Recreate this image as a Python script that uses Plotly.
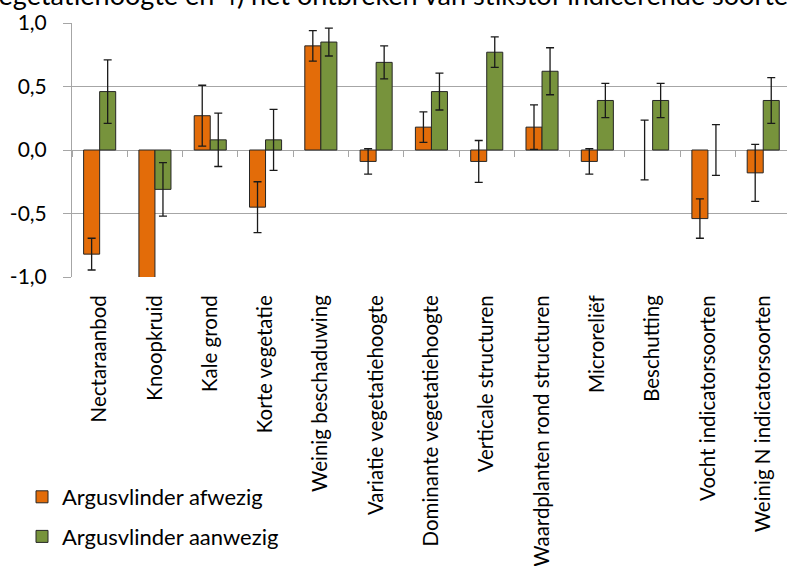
import plotly.graph_objects as go

categories = ["Nectaraanbod", "Knoopkruid", "Kale grond", "Korte vegetatie",
              "Weinig beschaduwing", "Variatie vegetatiehoogte", "Dominante vegetatiehoogte",
              "Verticale structuren", "Waardplanten rond structuren", "Microreliëf",
              "Beschutting", "Vocht indicatorsoorten", "Weinig N indicatorsoorten"]
afwezig = [-0.82, -1.25, 0.27, -0.45, 0.82, -0.09, 0.18, -0.09, 0.18, -0.09, 0.0, -0.54, -0.18]
afwezig_err = [0.125, 0.20, 0.24, 0.20, 0.12, 0.10, 0.12, 0.165, 0.175, 0.10, 0.235, 0.155, 0.225]
aanwezig = [0.46, -0.31, 0.08, 0.08, 0.85, 0.69, 0.46, 0.77, 0.62, 0.39, 0.39, 0.0, 0.39]
aanwezig_err = [0.25, 0.21, 0.21, 0.24, 0.11, 0.13, 0.145, 0.12, 0.185, 0.135, 0.135, 0.20, 0.18]
ytick_vals = [-1.0, -0.5, 0.0, 0.5, 1.0]
ytick_text = ["-1,0", "-0,5", "0,0", "0,5", "1,0"]
title_text = "vegetatiehoogte en 4) het ontbreken van stikstof indicerende soorten"

W, H = 787, 566
L, R, T, B = 72, 0, 23, 289
pw, ph = W - L - R, H - T - B

def px(x):
    return (x - L) / pw

def py(y):
    return (H - B - y) / ph

def outline_widths(vals):
    return [0 if v == 0 else 1 for v in vals]

fig = go.Figure()
fig.add_trace(go.Bar(
    x=categories, y=afwezig, name="Argusvlinder afwezig",
    marker=dict(color="#E36C09", line=dict(color="#262626", width=outline_widths(afwezig))),
    error_y=dict(type="data", array=afwezig_err, color="#1a1a1a", thickness=1.3, width=4),
    legendgroup="a",
))
fig.add_trace(go.Bar(
    x=categories, y=aanwezig, name="Argusvlinder aanwezig",
    marker=dict(color="#77933C", line=dict(color="#262626", width=outline_widths(aanwezig))),
    error_y=dict(type="data", array=aanwezig_err, color="#1a1a1a", thickness=1.3, width=4),
    legendgroup="b",
))
fig.add_trace(go.Scatter(x=categories, y=[None] * len(categories), xaxis="x2", yaxis="y",
                         showlegend=False, hoverinfo="skip", mode="markers"))

xr = [-0.5, len(categories) - 0.5 - 0.07]
fig.update_layout(
    width=W, height=H,
    margin=dict(l=L, r=R, t=T, b=B, pad=0),
    paper_bgcolor="white", plot_bgcolor="white",
    barmode="group", bargap=0.42, bargroupgap=0.0,
    showlegend=True,
    legend=dict(x=px(22), y=py(476), xanchor="left", yanchor="top",
                font=dict(family="Lato", size=22, color="#000000"),
                tracegroupgap=8, traceorder="grouped",
                bgcolor="rgba(0,0,0,0)", itemwidth=30),
    xaxis=dict(type="category", range=xr, showgrid=False, showline=False, zeroline=False,
               ticks="outside", ticklen=9, tickcolor="rgba(0,0,0,0)", tickangle=-90,
               tickfont=dict(family="Lato", size=20.5, color="#000000")),
    xaxis2=dict(type="category", range=xr, overlaying="x", anchor="free", position=0.5,
                side="bottom", showgrid=False, showline=False, zeroline=False,
                ticks="outside", ticklen=6, tickwidth=1, tickcolor="#A6A6A6",
                tickson="boundaries", showticklabels=False),
    yaxis=dict(range=[-1.0, 1.0], tickvals=ytick_vals, ticktext=ytick_text,
               showgrid=True, gridcolor="#A6A6A6", gridwidth=1,
               zeroline=True, zerolinecolor="#A6A6A6", zerolinewidth=1,
               showline=True, linecolor="#A6A6A6", linewidth=1,
               ticks="outside", ticklen=8, tickcolor="#A6A6A6",
               ticklabelstandoff=12,
               tickfont=dict(family="Lato", size=21, color="#000000")),
    annotations=[dict(text=title_text, xref="paper", yref="paper",
                      x=px(-17), y=py(13), xanchor="left", yanchor="bottom",
                      showarrow=False,
                      font=dict(family="Lato", size=27, color="#000000"))],
)

fig.write_html("out.html")
